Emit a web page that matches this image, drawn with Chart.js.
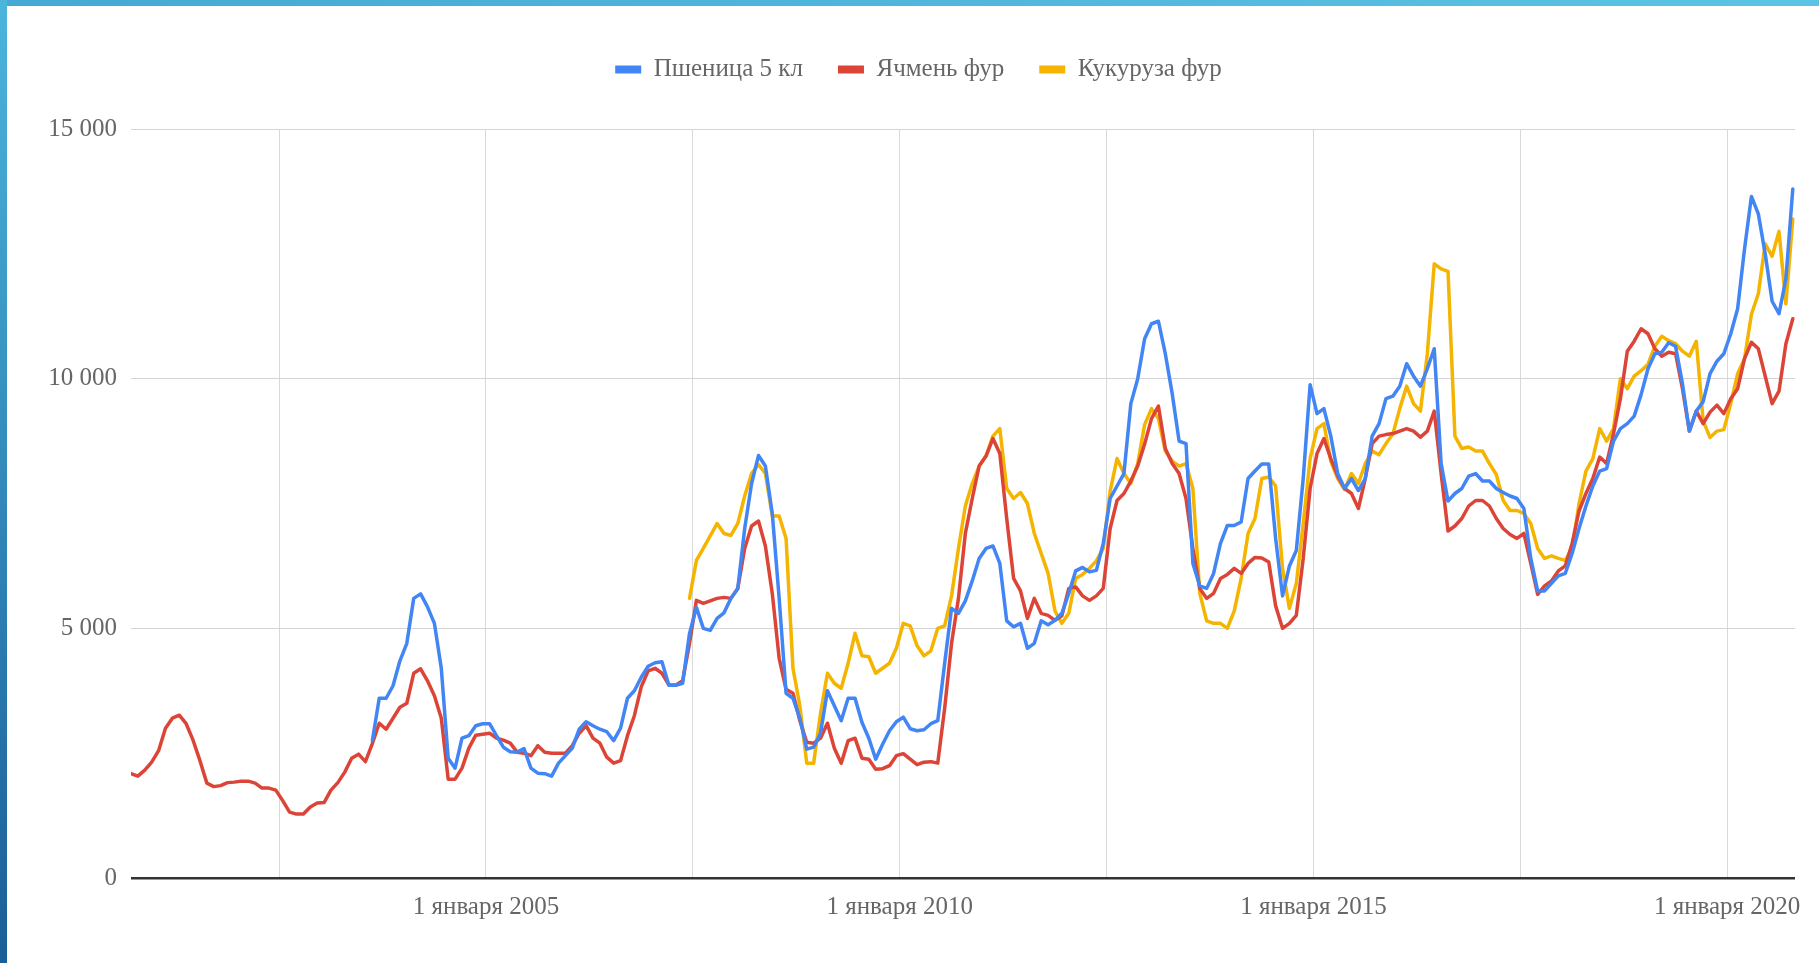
<!DOCTYPE html>
<html lang="ru">
<head>
<meta charset="utf-8">
<title>Цены на зерно</title>
<script src="https://cdn.jsdelivr.net/npm/chart.js@4.4.1/dist/chart.umd.min.js"></script>
<style>
    html, body { margin: 0; padding: 0; background: #fff; overflow: hidden; }
    #wrap { position: relative; width: 1819px; height: 963px; }
    #frameTop { position: absolute; left: 0; top: 0; width: 1819px; height: 6px; background: linear-gradient(90deg, #45aad3, #5bc3e3); }
    #frameLeft { position: absolute; left: 0; top: 0; width: 7px; height: 963px; background: linear-gradient(180deg, #4bb5dc, #1a5e97); }
</style>
</head>
<body>
<div id="wrap">
    <canvas id="priceChart"></canvas>
    <div id="frameTop"></div>
    <div id="frameLeft"></div>
</div>
<script>
// ============ DATA ============
// monthly points, first one is autumn 2000 (x as decimal year)
const FIRST_X = 2000.71;
const X_MIN = 2000.71;
const X_MAX = 2020.82;

const seriesNames = ['Пшеница 5 кл', 'Ячмень фур', 'Кукуруза фур'];

// Ячмень фур: whole period
const barley = [
    2090, 2040, 2160, 2320, 2550, 3000, 3200, 3260, 3090, 2760,
    2350, 1900, 1830, 1850, 1910, 1920, 1940, 1940, 1900, 1800,
    1800, 1760, 1550, 1320, 1280, 1280, 1420, 1500, 1510, 1760,
    1910, 2120, 2400, 2480, 2330, 2690, 3100, 2980, 3200, 3420,
    3500, 4100, 4190, 3950, 3650, 3200, 1980, 1980, 2200, 2600,
    2860, 2880, 2900, 2800, 2760, 2700, 2520, 2500, 2450, 2650,
    2520, 2500, 2500, 2500, 2650, 2900, 3050, 2800, 2700, 2420,
    2300, 2350, 2850, 3250, 3830, 4150, 4200, 4100, 3870, 3860,
    3950, 4700, 5560, 5500, 5550, 5600, 5620, 5600, 5800, 6600,
    7050, 7150, 6650, 5700, 4400, 3780, 3700, 3150, 2720, 2700,
    2800, 3100, 2600, 2300, 2750, 2800, 2400, 2380, 2180, 2190,
    2250, 2450, 2490, 2380, 2270, 2320, 2330, 2300, 3400, 4700,
    5600, 6900, 7600, 8250, 8450, 8800, 8500, 7200, 6000, 5750,
    5200, 5600, 5300, 5260, 5160, 5250, 5800, 5830, 5650, 5560,
    5650, 5800, 7000, 7560, 7700, 7950, 8250, 8690, 9200, 9450,
    8600, 8300, 8100, 7600, 6600, 5800, 5600, 5700, 6000, 6080,
    6200, 6100, 6300, 6420, 6410, 6330, 5450, 5000, 5100, 5260,
    6400, 7800, 8500, 8800, 8400, 8050, 7800, 7700, 7400, 8000,
    8700, 8850, 8880, 8900, 8950, 9000, 8950, 8830, 8950, 9350,
    8100, 6950, 7050, 7200, 7450, 7560, 7560, 7450, 7200, 7000,
    6880, 6800, 6900, 6300, 5680, 5850, 5950, 6150, 6250, 6700,
    7350, 7700, 8000, 8430, 8300, 8900, 9600, 10550, 10750, 11000,
    10900, 10600, 10450, 10530, 10500, 9800, 8950, 9350, 9100, 9330,
    9470, 9300, 9600, 9800, 10400, 10730, 10600, 10050, 9500, 9750,
    10700, 11200
];

// Пшеница 5 кл: starts at month index 35
const wheatFrom = 35;
const wheat = [
    2750, 3600, 3600, 3850, 4350,
    4700, 5600, 5690, 5430, 5100, 4200, 2400, 2200, 2800, 2850,
    3050, 3090, 3090, 2850, 2620, 2530, 2520, 2590, 2200, 2100,
    2090, 2040, 2300, 2450, 2600, 2980, 3130, 3050, 2980, 2930,
    2750, 3000, 3600, 3750, 4020, 4240, 4310, 4330, 3860, 3860,
    3900, 4900, 5420, 5000, 4960, 5200, 5310, 5600, 5800, 7000,
    7900, 8460, 8250, 7300, 5600, 3700, 3600, 3200, 2580, 2620,
    2900, 3750, 3450, 3150, 3600, 3600, 3120, 2800, 2380, 2680,
    2950, 3130, 3220, 2990, 2950, 2970, 3090, 3150, 4300, 5400,
    5300, 5550, 5950, 6400, 6600, 6650, 6300, 5150, 5030, 5100,
    4600, 4700, 5150, 5070, 5160, 5300, 5700, 6150, 6220, 6130,
    6160, 6700, 7600, 7850, 8100, 9500, 10000, 10800, 11100, 11150,
    10500, 9700, 8750, 8700, 6300, 5850, 5800, 6100, 6700, 7060,
    7060, 7130, 8000, 8150, 8290, 8290, 6800, 5650, 6250, 6560,
    8000, 9880, 9300, 9400, 8850, 8100, 7800, 8000, 7760, 8000,
    8850, 9100, 9600, 9650, 9850, 10300, 10050, 9850, 10200, 10600,
    8300, 7550, 7700, 7800, 8050, 8100, 7950, 7950, 7800, 7720,
    7650, 7600, 7400, 6400, 5750, 5750, 5900, 6050, 6100, 6500,
    7000, 7450, 7850, 8150, 8200, 8750, 9000, 9100, 9250, 9680,
    10200, 10500, 10530, 10720, 10650, 9900, 8950, 9350, 9540, 10100,
    10350, 10500, 10900, 11400, 12600, 13650, 13300, 12500, 11550, 11300,
    12000, 13800
];

// Кукуруза фур: starts at month index 81
const cornFrom = 81;
const corn = [
    5600, 6360, 6600, 6850, 7100, 6900, 6860, 7100, 7650,
    8100, 8280, 8100, 7250, 7250, 6800, 4200, 3450, 2300, 2300,
    3300, 4100, 3900, 3800, 4300, 4900, 4450, 4430, 4100, 4200,
    4300, 4600, 5100, 5050, 4650, 4450, 4550, 5000, 5050, 5650,
    6600, 7450, 7900, 8250, 8450, 8850, 9000, 7800, 7600, 7720,
    7500, 6900, 6500, 6100, 5350, 5100, 5300, 6000, 6080, 6200,
    6350, 6600, 7750, 8400, 8100, 7900, 8300, 9080, 9400, 9200,
    8550, 8350, 8250, 8300, 7800, 5700, 5150, 5100, 5100, 5000,
    5350, 6000, 6900, 7200, 8000, 8030, 7850, 6200, 5400, 5900,
    7100, 8400, 9000, 9100, 8350, 8000, 7780, 8100, 7900, 8300,
    8550, 8480, 8700, 8890, 9400, 9850, 9500, 9350, 10500, 12300,
    12200, 12150, 8850, 8600, 8630, 8550, 8550, 8300, 8080, 7560,
    7360, 7360, 7300, 7100, 6600, 6400, 6450, 6400, 6360, 6600,
    7500, 8150, 8400, 9000, 8750, 9000, 10000, 9800, 10050, 10160,
    10290, 10650, 10850, 10760, 10700, 10550, 10450, 10750, 9160, 8820,
    8950, 8980, 9500, 10100, 10400, 11290, 11700, 12700, 12450, 12950,
    11500, 13200
];

// axis marks
const gridYears = [2002.5, 2005, 2007.5, 2010, 2012.5, 2015, 2017.5, 2020];
const yTicks = [0, 5000, 10000, 15000];

const colors = ['#4285f4', '#db4437', '#f4b400'];

// ============ HELPERS ============
const dates = barley.map((_, i) => FIRST_X + i / 12);

function toPoints(values, from) {
    return values.map((v, i) => ({ x: dates[from + i], y: v }));
}

function formatThousands(v) {
    return String(v).replace(/\B(?=(\d{3})+(?!\d))/g, ' ');
}

const TEXT_COLOR = '#666666';
const FONT = { family: "'Liberation Serif', 'Times New Roman', serif", size: 25 };
const LEGEND_HEIGHT = 107;

// push the plot area down below the legend
const legendSpacer = {
    id: 'legendSpacer',
    beforeInit(chart) {
        const origFit = chart.legend.fit;
        chart.legend.fit = function () {
            origFit.call(this);
            this.height = LEGEND_HEIGHT;
        };
    }
};

// ============ BUILD CHART ============
const ctx = document.getElementById('priceChart').getContext('2d');

new Chart(ctx, {
    type: 'line',
    data: {
        datasets: [
            { label: seriesNames[0], data: toPoints(wheat, wheatFrom), borderColor: colors[0], backgroundColor: colors[0] },
            { label: seriesNames[1], data: toPoints(barley, 0), borderColor: colors[1], backgroundColor: colors[1] },
            { label: seriesNames[2], data: toPoints(corn, cornFrom), borderColor: colors[2], backgroundColor: colors[2] }
        ]
    },
    options: {
        responsive: true,
        maintainAspectRatio: false,
        animation: false,
        layout: { padding: { left: 42, right: 24, top: 22, bottom: 0 } },
        elements: {
            point: { radius: 0, hoverRadius: 0 },
            line: { borderWidth: 3.5, tension: 0, borderJoinStyle: 'round', borderCapStyle: 'round' }
        },
        plugins: {
            legend: {
                position: 'top',
                labels: {
                    boxWidth: 26,
                    boxHeight: 8,
                    padding: 35,
                    color: TEXT_COLOR,
                    font: FONT,
                    generateLabels(chart) {
                        return Chart.defaults.plugins.legend.labels.generateLabels(chart)
                            .map(item => ({ ...item, lineWidth: 0 }));
                    }
                }
            },
            tooltip: { enabled: false }
        },
        scales: {
            x: {
                type: 'linear',
                min: X_MIN,
                max: X_MAX,
                afterFit(scale) { scale.height = 85; },
                afterBuildTicks(scale) { scale.ticks = gridYears.map(v => ({ value: v })); },
                ticks: {
                    autoSkip: false,
                    maxRotation: 0,
                    padding: 14,
                    color: TEXT_COLOR,
                    font: FONT,
                    callback: v => Number.isInteger(v) ? '1 января ' + v : ''
                },
                grid: { color: '#d9d9d9', lineWidth: 1, drawTicks: false },
                border: { display: false }
            },
            y: {
                min: 0,
                max: 15000,
                afterFit(scale) { scale.width = 89; },
                afterBuildTicks(scale) { scale.ticks = yTicks.map(v => ({ value: v })); },
                ticks: {
                    padding: 14,
                    color: TEXT_COLOR,
                    font: FONT,
                    callback: v => formatThousands(v)
                },
                grid: {
                    drawTicks: false,
                    color: c => (c.tick && c.tick.value === 0) ? '#333333' : '#d4d4d4',
                    lineWidth: c => (c.tick && c.tick.value === 0) ? 2.5 : 1
                },
                border: { display: false }
            }
        }
    },
    plugins: [legendSpacer]
});
</script>
</body>
</html>
